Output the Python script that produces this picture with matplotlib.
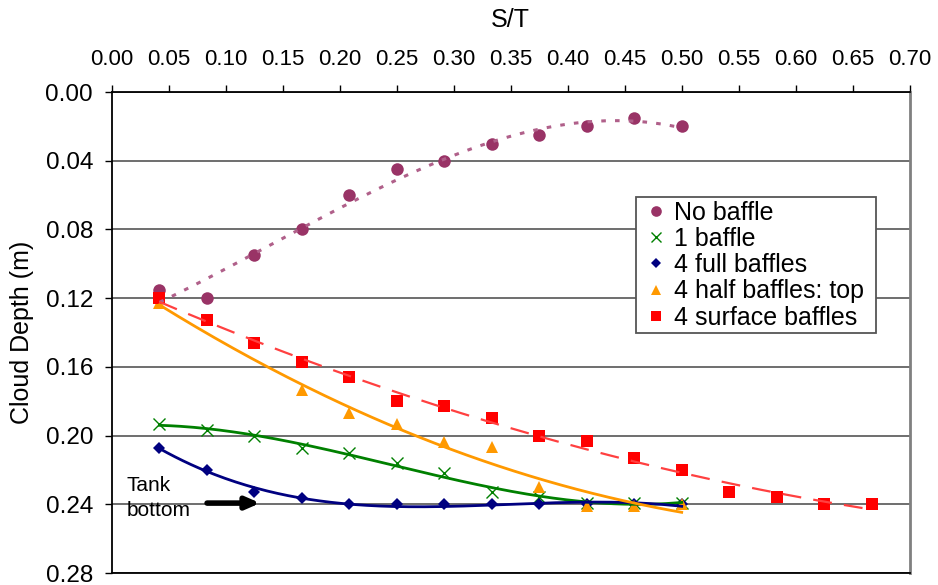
import numpy as np
import matplotlib
matplotlib.use("Agg")
import matplotlib.pyplot as plt

plt.rcParams['font.family'] = ['Liberation Sans', 'DejaVu Sans']

# S/T values (multiples of 1/24)
st = [1/24, 2/24, 3/24, 4/24, 5/24, 6/24, 7/24, 8/24, 9/24, 10/24, 11/24, 12/24]
st_surface = st + [13/24, 14/24, 15/24, 16/24]

no_baffle = [0.115, 0.120, 0.095, 0.080, 0.060, 0.045, 0.040, 0.030, 0.025, 0.020, 0.015, 0.020]
one_baffle = [0.193, 0.197, 0.200, 0.207, 0.210, 0.216, 0.222, 0.233, 0.236, 0.239, 0.239, 0.239]
full_baffles = [0.207, 0.220, 0.233, 0.2365, 0.240, 0.240, 0.240, 0.240, 0.240, 0.240, 0.240, 0.240]
half_baffles = [0.123, np.nan, np.nan, 0.1735, 0.1866, 0.193, 0.2035, 0.2065, 0.230, 0.241, 0.241, 0.240]
surface_baffles = [0.120, 0.133, 0.146, 0.157, 0.166, 0.180, 0.183, 0.190, 0.200, 0.203, 0.213, 0.220,
                   0.233, 0.236, 0.240, 0.240]

series = [
    ("No baffle", st, no_baffle, "#993366", "o", 9, 3, ":"),
    ("1 baffle", st, one_baffle, "#008000", "x", 8, 3, "-"),
    ("4 full baffles", st, full_baffles, "#000080", "D", 6.5, 3, "-"),
    ("4 half baffles: top", st, half_baffles, "#FF9900", "^", 9, 2, "-"),
    ("4 surface baffles", st_surface, surface_baffles, "#FF0000", "s", 8.5, 2, "--"),
]

fig = plt.figure(figsize=(9.38, 5.85), dpi=100)
ax = fig.add_axes([0.1194, 0.0205, 0.8503, 0.8222])

for label, xs, ys, color, marker, ms, order, ls in series:
    xs = np.array(xs)
    ys = np.array(ys)
    ok = ~np.isnan(ys)
    ax.plot(xs, ys, linestyle="none", marker=marker, color=color, markersize=ms,
            markeredgewidth=1 if marker == "x" else 0, label=label, zorder=3)
    # polynomial trendline like Excel
    coef = np.polyfit(xs[ok], ys[ok], order)
    xf = np.linspace(xs[ok][0], xs[ok][-1], 200)
    if ls == ":":
        ax.plot(xf, np.polyval(coef, xf), color="#b0608a", lw=2.2, dashes=(1.5, 3), zorder=4)
    elif ls == "--":
        ax.plot(xf, np.polyval(coef, xf), color="#ff4040", lw=1.6, dashes=(8.5, 5.5), zorder=4)
    else:
        ax.plot(xf, np.polyval(coef, xf), color=color, lw=2, zorder=4)

ax.set_xlim(0, 0.70)
ax.set_ylim(0.28, 0)
ax.set_xticks(np.arange(0, 0.701, 0.05))
ax.set_yticks(np.arange(0, 0.281, 0.04))
ax.xaxis.set_major_formatter(matplotlib.ticker.FormatStrFormatter("%.2f"))
ax.yaxis.set_major_formatter(matplotlib.ticker.FormatStrFormatter("%.2f"))
ax.xaxis.tick_top()
ax.xaxis.set_label_position("top")
ax.tick_params(axis="both", direction="out", length=5, width=1)
ax.tick_params(axis="x", pad=11, labelsize=16)
ax.tick_params(axis="y", pad=8.6, labelsize=17.5)
ax.set_xlabel("S/T", fontsize=18, labelpad=16)
ax.set_ylabel("Cloud Depth (m)", fontsize=18, labelpad=8)

ax.grid(axis="y", color="#555555", lw=1.2)
ax.set_axisbelow(True)
for s in ["left", "top", "bottom"]:
    ax.spines[s].set_color("black")
    ax.spines[s].set_linewidth(1.3)
ax.spines["right"].set_color("#808080")
ax.spines["right"].set_linewidth(2)

ax.annotate("", xy=(0.1325, 0.2393), xytext=(0.081, 0.2393),
            arrowprops=dict(arrowstyle="-|>,head_length=0.8,head_width=0.35", color="black", lw=4),
            zorder=5)
ax.text(0.013, 0.2238, "Tank\nbottom", fontsize=15, va="top", ha="left", linespacing=1.35)

leg = ax.legend(loc="upper left", bbox_to_anchor=(0.657, 0.782, 0.301, 0.0), mode="expand",
                fontsize=18, markerscale=0.85,
                handlelength=1.3, handletextpad=0.05, labelspacing=0.09, borderpad=0.15,
                fancybox=False, framealpha=1, borderaxespad=0)
leg.get_frame().set_edgecolor("#555555")
leg.get_frame().set_linewidth(1.3)

fig.savefig("out.png", dpi=100)
